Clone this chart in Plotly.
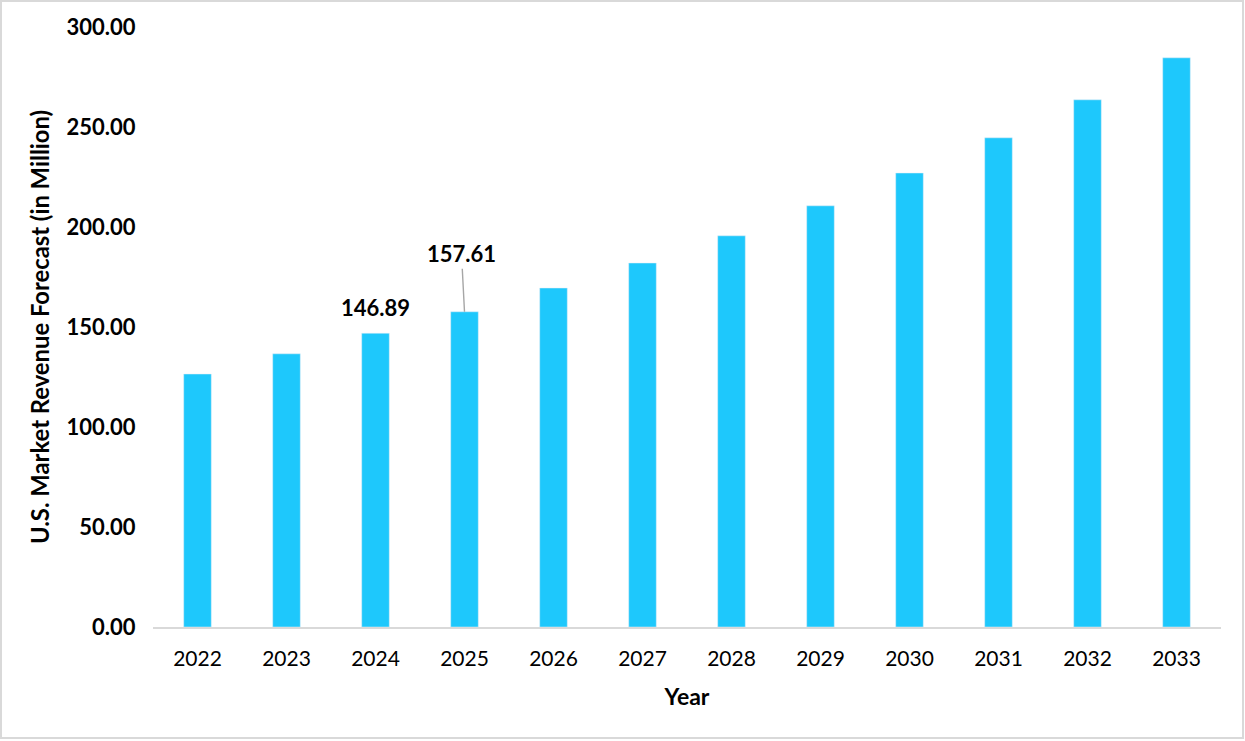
import plotly.graph_objects as go

years = ["2022", "2023", "2024", "2025", "2026", "2027", "2028", "2029", "2030", "2031", "2032", "2033"]
revenue = [126.5, 136.6, 146.89, 157.61, 169.5, 182.0, 195.6, 210.6, 227.0, 244.6, 263.6, 284.6]
labelled = {"2024": 146.89, "2025": 157.61}

W, H = 1245, 741
ml, mr, mt, mb = 153, 24, 27, 114
pw, ph = W - ml - mr, H - mt - mb


def px_x(px):
    return (px - ml) / pw


def px_y(py):
    return ((H - mb) - py) / ph


font = "Lato, 'Open Sans', sans-serif"

fig = go.Figure(go.Bar(x=years, y=revenue, marker_color="#1ec8fc"))

fig.add_annotation(x=years.index("2024"), y=labelled["2024"], text="<b>146.89</b>",
                   showarrow=False, yanchor="middle", yshift=26,
                   font=dict(size=22, color="#000"))
fig.add_annotation(x=years.index("2025"), y=labelled["2025"], text="<b>157.61</b>",
                   showarrow=True, arrowhead=0, arrowwidth=1.4, arrowcolor="#a6a6a6",
                   ax=-3, ay=-58, font=dict(size=22, color="#000"))

fig.add_shape(type="rect", xref="paper", yref="paper",
              x0=px_x(1), x1=px_x(1243), y0=px_y(738), y1=px_y(1),
              line=dict(color="#d9d9d9", width=2), layer="below")

fig.update_layout(
    width=W, height=H,
    margin=dict(l=ml, r=mr, t=mt, b=mb),
    paper_bgcolor="white", plot_bgcolor="white",
    font=dict(family=font, color="#000", size=18),
    showlegend=False, bargap=0.69,
    xaxis=dict(type="category", categoryorder="array", categoryarray=years,
               range=[-0.5, len(years) - 0.5], autorange=False,
               showline=True, linecolor="#d9d9d9", linewidth=2, ticks="",
               tickfont=dict(size=21), showgrid=False, ticklabelstandoff=12,
               title=dict(text="<b>Year</b>", font=dict(size=23), standoff=20)),
    yaxis=dict(range=[0, 300], dtick=50, tickformat=".2f", showgrid=False,
               zeroline=False, showline=False, ticks="outside", ticklen=12,
               tickcolor="white", tickfont=dict(size=22, weight="bold"),
               title=dict(text="<b>U.S. Market Revenue Forecast (in Million)</b>",
                          font=dict(size=23.8), standoff=10)),
)

fig.write_html("out.html", config={"displayModeBar": False},
               post_script="document.body.style.margin='0';document.body.style.overflow='hidden';")
